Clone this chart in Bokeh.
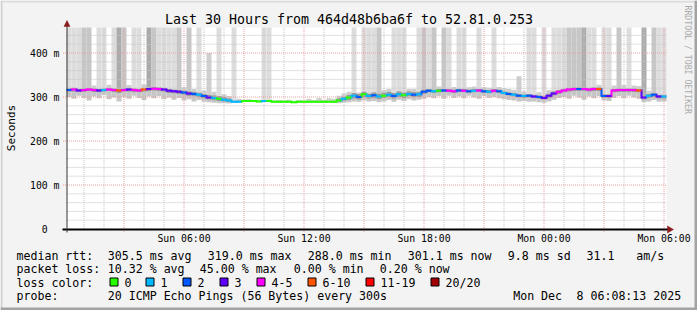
import math
from bokeh.plotting import figure
from bokeh.models import Range1d, ColumnDataSource
from bokeh.core.properties import value
from bokeh.embed import file_html
from bokeh.resources import INLINE

# ------------------------------------------------------------------ data
title_text = "Last 30 Hours from 464d48b6ba6f to 52.81.0.253"
start_hour = 0.125         # Sun 00:07:30 (left edge of the graph)
step_hours = 0.25          # 15 minute bins
span_hours = 30

median_ms = [
    316, 317, 315, 316, 317, 316, 315, 316, 317, 316,
    315, 316, 317, 316, 315, 317, 318, 319, 318, 317,
    314, 313, 312, 310, 308, 307, 305, 302, 299, 298,
    296, 294, 292, 289, 289, 291, 291, 291, 290, 291,
    291, 289, 289, 289, 289, 288, 289, 289, 289, 289,
    289, 289, 289, 289, 292, 296, 299, 303, 300, 306,
    302, 304, 301, 303, 305, 302, 306, 304, 307, 305,
    306, 312, 314, 313, 314, 315, 314, 313, 315, 314,
    313, 314, 315, 313, 312, 314, 313, 309, 307, 305,
    303, 302, 303, 301, 300, 298, 303, 308, 312, 315,
    317, 318, 318, 318, 317, 318, 318, 302, 302, 315,
    316, 316, 316, 316, 315, 299, 303, 305, 301, 301]

loss_pings = [
    2, 4, 3, 4, 5, 4, 3, 1, 4, 5,
    9, 4, 3, 4, 5, 6, 3, 4, 5, 3,
    3, 3, 3, 2, 3, 2, 1, 2, 3, 1,
    0, 1, 1, 1, 1, 0, 0, 0, 0, 1,
    0, 0, 0, 0, 0, 0, 0, 0, 0, 0,
    0, 0, 0, 0, 0, 1, 0, 1, 2, 0,
    1, 2, 1, 0, 1, 2, 1, 0, 1, 2,
    1, 2, 2, 1, 0, 2, 4, 4, 2, 4,
    2, 1, 4, 2, 1, 4, 2, 1, 2, 1,
    2, 1, 2, 3, 2, 3, 3, 3, 4, 4,
    5, 4, 2, 4, 5, 4, 6, 2, 3, 4,
    5, 4, 4, 5, 6, 3, 1, 2, 3, 1]

smoke_min_ms = [
    300, 296, 303, 298, 292, 301, 297, 304, 295, 299,
    290, 300, 296, 303, 298, 293, 301, 297, 302, 295,
    299, 294, 298, 292, 295, 290, 293, 289, 288, 287,
    286, 286, 285, 287, 287, 290, 290, 290, 289, 289,
    290, 288, 288, 288, 288, 287, 288, 288, 288, 288,
    288, 288, 288, 287, 286, 287, 288, 290, 289, 292,
    290, 291, 288, 290, 293, 289, 294, 291, 295, 292,
    294, 296, 300, 297, 302, 296, 303, 298, 301, 297,
    303, 299, 296, 302, 298, 300, 297, 295, 293, 292,
    290, 291, 289, 290, 288, 287, 290, 294, 298, 300,
    296, 303, 299, 294, 301, 297, 302, 292, 291, 298,
    302, 297, 303, 299, 296, 288, 290, 293, 289, 290]

smoke_q1_ms = [
    312, 312, 311, 311, 313, 311, 310, 312, 313, 311,
    309, 312, 312, 311, 310, 312, 313, 314, 313, 312,
    309, 308, 306, 305, 302, 301, 299, 296, 294, 292,
    291, 289, 288, 288, 288, 290, 290, 290, 289, 290,
    290, 288, 288, 288, 288, 287, 288, 288, 288, 288,
    288, 288, 288, 288, 289, 291, 293, 296, 294, 299,
    296, 297, 295, 297, 299, 296, 300, 298, 301, 299,
    300, 306, 310, 309, 310, 311, 310, 309, 311, 310,
    309, 310, 311, 309, 308, 310, 309, 305, 303, 301,
    299, 298, 299, 297, 296, 294, 298, 303, 307, 310,
    312, 313, 313, 313, 312, 313, 313, 297, 297, 310,
    311, 311, 311, 311, 310, 294, 298, 300, 296, 296]

smoke_q3_ms = [
    320, 321, 319, 320, 321, 320, 319, 320, 321, 320,
    320, 320, 321, 320, 319, 321, 322, 323, 322, 321,
    318, 317, 316, 315, 313, 312, 310, 307, 305, 304,
    302, 300, 297, 292, 292, 292, 292, 292, 291, 292,
    292, 290, 290, 290, 290, 289, 290, 290, 290, 290,
    290, 290, 290, 291, 297, 301, 305, 309, 307, 312,
    308, 311, 308, 310, 312, 309, 313, 311, 313, 312,
    312, 317, 318, 317, 318, 319, 318, 317, 319, 318,
    317, 318, 319, 317, 316, 318, 317, 313, 311, 309,
    307, 306, 307, 305, 304, 303, 308, 313, 316, 319,
    321, 322, 322, 322, 321, 322, 322, 306, 306, 319,
    320, 320, 320, 320, 319, 304, 307, 309, 305, 305]

smoke_max_ms = [
    1000, 1000, 1000, 1000, 1000, 326, 1000, 1000, 328, 1000,
    1000, 1000, 327, 1000, 1000, 329, 1000, 1000, 1000, 1000,
    1000, 1000, 1000, 322, 1000, 318, 1000, 315, 400, 312,
    1000, 306, 302, 1000, 296, 294, 295, 293, 294, 1000,
    1000, 292, 293, 292, 294, 291, 293, 292, 296, 293,
    298, 294, 297, 296, 303, 308, 312, 1000, 310, 1000,
    1000, 1000, 1000, 316, 318, 1000, 1000, 1000, 318, 318,
    1000, 1000, 1000, 1000, 324, 1000, 1000, 323, 1000, 1000,
    322, 324, 1000, 322, 321, 1000, 323, 320, 318, 316,
    347, 313, 1000, 1000, 311, 1000, 316, 1000, 1000, 1000,
    1000, 1000, 1000, 1000, 1000, 1000, 328, 1000, 1000, 326,
    1000, 327, 1000, 326, 325, 1000, 314, 1000, 1000, 1000]

# number of pings (of 20) far above the graph top in each bin
high_pings = [
    1, 1, 1, 2, 2, 0, 1, 1, 0, 1,
    3, 2, 0, 1, 1, 0, 3, 2, 1, 1,
    1, 1, 2, 0, 2, 0, 1, 0, 0, 0,
    1, 0, 0, 1, 0, 0, 0, 0, 0, 1,
    1, 0, 0, 0, 0, 0, 0, 0, 0, 0,
    0, 0, 0, 0, 0, 0, 0, 1, 0, 1,
    1, 1, 2, 0, 0, 1, 1, 1, 0, 0,
    1, 2, 1, 2, 0, 2, 1, 0, 1, 1,
    0, 0, 1, 0, 0, 1, 0, 0, 0, 0,
    0, 0, 1, 1, 0, 1, 0, 1, 1, 1,
    2, 2, 2, 3, 1, 1, 0, 1, 1, 0,
    2, 0, 1, 0, 0, 3, 0, 2, 1, 1]

x_major_hours = [3, 6, 9, 12, 15, 18, 21, 24, 27, 30]
x_label_hours = [6, 12, 18, 24, 30]
x_tick_labels = ["Sun 06:00", "Sun 12:00", "Sun 18:00", "Mon 00:00", "Mon 06:00"]
y_ticks_ms = [0, 100, 200, 300, 400]
y_tick_labels = ["0", "100 m", "200 m", "300 m", "400 m"]
y_axis_title = "Seconds"

loss_levels = ["0", "1", "2", "3", "4-5", "6-10", "11-19", "20/20"]
loss_upper = [0, 1, 2, 3, 5, 10, 19, 20]
loss_colors = ["#26ff00", "#00b8ff", "#0059ff", "#5e00ff", "#ff00ff",
               "#ff5500", "#ff0000", "#a10000"]

rtt_stats = ["median rtt:", "305.5 ms avg", "319.0 ms max", "288.0 ms min",
             "301.1 ms now", "9.8 ms sd", "31.1", "am/s"]
loss_stats = ["packet loss:", "10.32 % avg", "45.00 % max", "0.00 % min",
              "0.20 % now"]
probe_text = ["probe:", "20 ICMP Echo Pings (56 Bytes) every 300s",
              "Mon Dec", "8 06:08:13 2025"]
credit_text = "RRDTOOL / TOBI OETIKER"

# ------------------------------------------------------------------ layout / style
W, H = 697, 310
X0 = 66            # px of graph left edge
PX_PER_H = 20.0
Y0 = 228.5         # px of 0 ms
PX_PER_MS = 0.44
GRAPH_TOP_PX = 27
MONO = "DejaVu Sans Mono"
ARROW_C = "#8a1c1c"


def dx(px):
    return start_hour + (px - X0) / PX_PER_H


def dy(py):
    return (Y0 - py) / PX_PER_MS


y_top = dy(GRAPH_TOP_PX)
n = len(median_ms)
assert all(len(a) == n for a in [loss_pings, smoke_min_ms, smoke_q1_ms,
                                 smoke_q3_ms, smoke_max_ms, high_pings])

t0 = [start_hour + i * step_hours for i in range(n)]
tc = [t + step_hours / 2 for t in t0]
t1 = [t + step_hours for t in t0]
t_end = start_hour + span_hours


def loss_color(k):
    for up, c in zip(loss_upper, loss_colors):
        if k <= up:
            return c
    return loss_colors[-1]


shade = {0: "#cfcfcf", 1: "#dddddd", 2: "#c7c7c7", 3: "#ababab"}

p = figure(width=W, height=H, output_backend="svg", toolbar_location=None,
           x_range=Range1d(dx(0), dx(W)), y_range=Range1d(dy(H), dy(0)),
           x_axis_location=None, y_axis_location=None,
           min_border=0, min_border_left=0, min_border_right=0,
           min_border_top=0, min_border_bottom=0)
p.grid.visible = False
p.background_fill_color = "#f3f3f3"
p.border_fill_color = "#f3f3f3"
p.outline_line_color = None

# canvas (white graph area)
p.quad(left=[start_hour], right=[t_end], bottom=[0], top=[y_top],
       fill_color="white", line_color=None)

# smoke
src = ColumnDataSource(dict(
    x=tc, mn=smoke_min_ms, q1=smoke_q1_ms, q3=smoke_q3_ms,
    mx=[min(v, y_top) for v in smoke_max_ms],
    up_c=[shade[k] for k in high_pings]))
p.vbar(x="x", width=step_hours, bottom="q3", top="mx", fill_color="up_c",
       line_color=None, source=src)
p.vbar(x="x", width=step_hours, bottom="mn", top="q1", fill_color="#c6c6c6",
       line_color=None, source=src)
p.vbar(x="x", width=step_hours, bottom="q1", top="q3", fill_color="#9a9a9a",
       line_color=None, source=src)

# grid (drawn over the smoke, like rrdtool)
minor_x = [h for h in range(1, 31) if h % 3]
minor_y = [v for v in range(20, 460, 20) if v % 100]
p.segment(x0=minor_x, x1=minor_x, y0=[0] * len(minor_x), y1=[y_top] * len(minor_x),
          line_color="#c4c4c4", line_width=1, line_dash="1 1")
p.segment(x0=[start_hour] * len(minor_y), x1=[t_end] * len(minor_y),
          y0=minor_y, y1=minor_y, line_color="#c4c4c4", line_width=1, line_dash="1 1")
p.segment(x0=x_major_hours, x1=x_major_hours, y0=[dy(Y0 + 3)] * len(x_major_hours),
          y1=[y_top] * len(x_major_hours), line_color="#e8a0a0", line_width=1,
          line_dash="1 1")
p.segment(x0=[dx(X0 - 3.5)] * 4, x1=[t_end] * 4, y0=y_ticks_ms[1:], y1=y_ticks_ms[1:],
          line_color="#e8a0a0", line_width=1, line_dash="1 1")

# median, coloured by loss
cols = [loss_color(k) for k in loss_pings]
p.segment(x0=t0[1:], x1=t0[1:], y0=median_ms[:-1], y1=median_ms[1:],
          line_color=cols[1:], line_width=2, line_cap="square")
p.segment(x0=t0, x1=t1, y0=median_ms, y1=median_ms, line_color=cols,
          line_width=2)

# axes with arrow heads
p.segment(x0=[dx(62)], x1=[dx(668)], y0=[dy(Y0 + 0.5)], y1=[dy(Y0 + 0.5)],
          line_color="black", line_width=2)
p.segment(x0=[dx(X0 + 0.5)], x1=[dx(X0 + 0.5)], y0=[dy(232)], y1=[dy(22)],
          line_color="#333333", line_width=1)
p.patches(xs=[[dx(667), dx(673), dx(667)], [dx(X0 - 2.5), dx(X0 + 0.5), dx(X0 + 3.5)]],
          ys=[[dy(Y0 - 3), dy(Y0 + 0.5), dy(Y0 + 4)], [dy(26), dy(20), dy(26)]],
          fill_color=ARROW_C, line_color=ARROW_C, line_width=0.5)

# tick labels
p.text(x=x_label_hours, y=[0] * len(x_label_hours), text=x_tick_labels,
       y_offset=9.5, text_font=value(MONO), text_font_size=value("9.8px"),
       text_align="center", text_baseline="middle", text_color="black")
p.text(x=[dx(59)] * len(y_ticks_ms), y=y_ticks_ms,
       text=[t if t != "0" else "0  " for t in y_tick_labels],
       text_font=value(MONO), text_font_size=value("9.8px"),
       text_align="right", text_baseline="middle", text_color="black")
p.text(x=[dx(10.5)], y=[dy(127.5)], text=[y_axis_title], angle=math.pi / 2,
       text_font=value(MONO), text_font_size=value("11px"),
       text_align="center", text_baseline="middle", text_color="black")


def texts(xs_px, y_px, strings, size="11.6px", color="black", align="left",
          angle=0.0):
    p.text(x=[dx(v) for v in xs_px], y=[dy(y_px)] * len(xs_px), text=strings,
           angle=angle, text_font=value(MONO), text_font_size=value(size),
           text_align=align, text_baseline="middle", text_color=color)


texts([348.5], 18.5, [title_text], size="13.3px", align="center")
texts([687.5], 5, [credit_text], size="8.2px", color="#aaaaaa",
      angle=-math.pi / 2)
texts([16, 107.3, 207.3, 307.3, 407.3, 507.3, 586, 635.7], 255, rtt_stats)
texts([16, 107.3, 199.3, 293.3, 379.3], 268.3, loss_stats)
box_x = [109.5, 145.5, 182.5, 219.5, 256.5, 307.5, 365.5, 430.5]
texts([16], 282, ["loss color:"])
texts([b + 14.5 for b in box_x], 282, loss_levels)
texts([16, 107.3, 512.7, 576.0], 295.7, probe_text)

# legend colour boxes
p.quad(left=[dx(b) for b in box_x], right=[dx(b + 8) for b in box_x],
       top=[dy(277.5)] * len(box_x), bottom=[dy(285.5)] * len(box_x),
       fill_color=loss_colors, line_color="black", line_width=1)

# outer frame shading
p.quad(left=[dx(0), dx(0), dx(W - 3), dx(0)], right=[dx(W), dx(2), dx(W), dx(W)],
       top=[dy(0), dy(0), dy(0), dy(H - 3)], bottom=[dy(2), dy(H), dy(H), dy(H)],
       fill_color=["#dcdcdc", "#d2d2d2", "#a3a3a3", "#a3a3a3"], line_color=None)

open("out.html", "w").write(file_html(p, INLINE))
